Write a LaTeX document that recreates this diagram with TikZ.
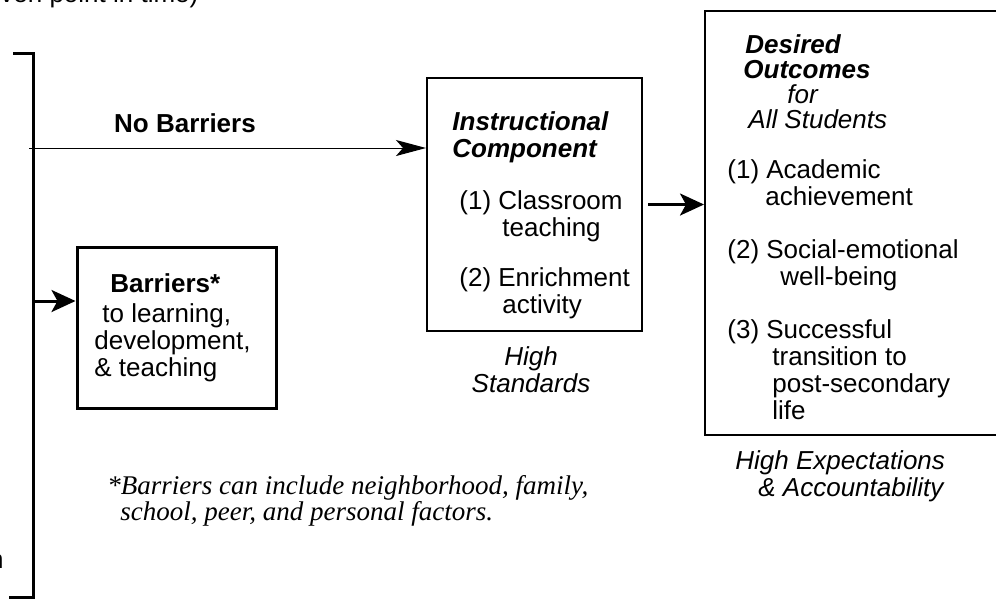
\documentclass[tikz,border=0pt]{standalone}
\usepackage{fontspec}
\setmainfont{Liberation Sans}
\newfontfamily\notefont{Liberation Serif}
\usetikzlibrary{arrows.meta,positioning}

\newcommand\dfont{\fontsize{13}{13.5}\selectfont}

\tikzset{
  box/.style={draw, line width=1pt, inner sep=0pt},
  thickbox/.style={draw, line width=1.5pt, inner sep=0pt},
  txt/.style={inner sep=0pt, align=left, font=\dfont},
  txtb/.style={txt, font=\dfont\bfseries},
  txtbi/.style={txt, font=\dfont\bfseries\itshape},
  txti/.style={txt, font=\dfont\itshape},
  note/.style={inner sep=0pt, align=left, font=\notefont\itshape\fontsize{13.5}{13}\selectfont},
  bigarrow/.style={line width=1.5pt, -{Stealth[length=12pt,width=11pt,inset=3pt]}},
  thinarrow/.style={line width=0.5pt, -{Stealth[length=15pt,width=8pt,inset=3.5pt]}},
}

\begin{document}
\begin{tikzpicture}[x=0.5pt,y=-0.5pt]
\useasboundingbox (0,0) rectangle (996,602);

% boxes
\node[thickbox, minimum width=99.5pt, minimum height=80.5pt] (barr) at (176.5,327.5) {};
\node[box, minimum width=107.5pt, minimum height=126.5pt] (instr) at (534.5,204.5) {};
\node[box, minimum width=150pt, minimum height=212pt] (outc) at (855,223) {};

% bracket on the left
\draw[line width=1.5pt] (13,53) -- (33,53) -- (33,597) -- (9,597);
\coordinate (nb) at (29,148);
\coordinate (bb) at (33,301);

% arrows
\draw[thinarrow] (nb) -- (nb -| instr.west);
\draw[bigarrow] (bb) -- (bb -| barr.west);
\draw[bigarrow] ([xshift=2.5pt]instr.east) -- (instr.east -| outc.west);

% cut-off texts at the edges
\node[txt, anchor=base west] (toptxt) at (0,2) {ven point in time)};
\node[txt, anchor=base east] (nfrag) at (4,568) {n};

\node[txtb, anchor=base] (nobar) at (185,132) {No Barriers};

\node[txt, anchor=north west] (barrtxt) at (94,273)
  {\hspace*{8pt}\textbf{Barriers*}\\[1.5pt]\hspace*{4pt}to learning,\\development,\\\& teaching};

\node[txtbi, anchor=north west] (insttl) at (452,111) {Instructional\\Component};
\node[txt, anchor=north west] (instit) at (459,190)
  {(1) Classroom\\\hspace*{21.5pt}teaching\\[11.5pt](2) Enrichment\\\hspace*{21.5pt}activity};
\node[txti, align=center, anchor=north] (highstd) at (531,346) {High\\Standards};

\node[txti, anchor=north west] (outttl) at (743,34)
  {\hspace*{1pt}\textbf{Desired}\\[-1pt]\textbf{Outcomes}\\[-1pt]\hspace*{22pt}for\\[-1pt]\hspace*{2.5pt}All Students};
\node[txt, anchor=north west] (outit) at (727,159)
  {(1) Academic\\\hspace*{19pt}achievement\\[13pt](2) Social-emotional\\\hspace*{26.5pt}well-being\\[13pt](3) Successful\\\hspace*{22.5pt}transition to\\\hspace*{22.5pt}post-secondary\\\hspace*{22.5pt}life};
\node[txti, anchor=north west] (hiexp) at (735,450) {High Expectations\\\hspace*{11.5pt}\& Accountability};

\node[note, anchor=north west] (fnote) at (107,475.5)
  {*Barriers can include neighborhood, family,\\\hspace*{6.5pt}school, peer, and personal factors.};
\end{tikzpicture}
\end{document}
